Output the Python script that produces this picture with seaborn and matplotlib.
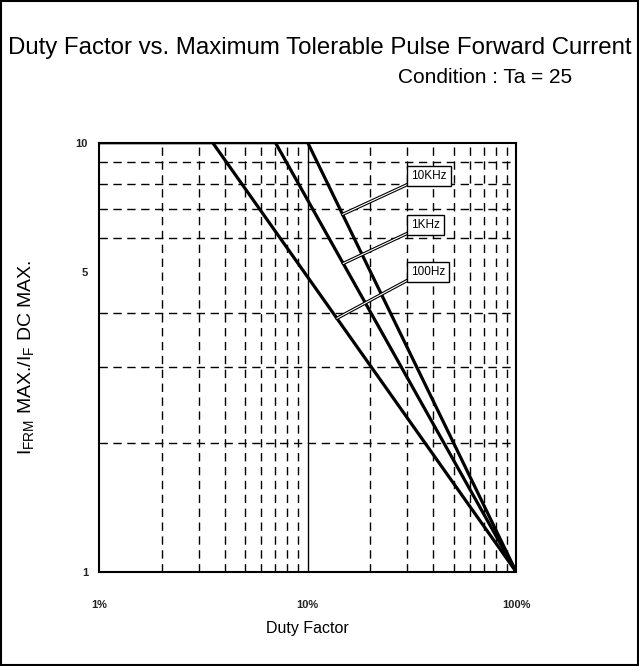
import numpy as np
import pandas as pd
import seaborn as sns
import matplotlib
matplotlib.use("Agg")
import matplotlib.pyplot as plt
from matplotlib.patches import Rectangle
from matplotlib.ticker import FixedLocator, NullFormatter

# data (duty factor in %)
freq_labels = ["100Hz", "1KHz", "10KHz"]
break_duty = [3.5, 7.0, 10.0]      # duty where the curve leaves the 10x ceiling
start_duty = 1.0
end_duty = 100.0
ceiling = 10.0
floor_ratio = 1.0
label_duty = [13.8, 14.8, 14.7]    # where the leader lines touch each curve

x_ticks = [1, 10, 100]
x_ticklabels = ["1%", "10%", "100%"]
y_ticks = [1, 5, 10]
y_ticklabels = ["1", "5", "10"]

rows = []
for f, b in zip(freq_labels, break_duty):
    for d, r in zip([start_duty, b, end_duty], [ceiling, ceiling, floor_ratio]):
        rows.append({"freq": f, "duty": d, "ratio": r})
df = pd.DataFrame(rows)

sns.set_style("white")
plt.rcParams["font.family"] = ["Liberation Sans", "DejaVu Sans"]
plt.rcParams["mathtext.default"] = "regular"
plt.rcParams["text.color"] = "black"
plt.rcParams["axes.labelcolor"] = "black"

fig = plt.figure(figsize=(6.39, 6.66), dpi=100)
ax = fig.add_axes([0.155, 0.141, 0.653, 0.645])

sns.lineplot(data=df, x="duty", y="ratio", units="freq", estimator=None,
             sort=False, color="black", linewidth=2.3, ax=ax)

ax.set_xscale("log")
ax.set_yscale("log")
ax.set_xlim(1, 100)
ax.set_ylim(1, 10)

# dashed minor grid, solid line at 10%
minor_x = [m * 10 ** e for e in (0, 1) for m in range(2, 10)]
minor_y = list(range(2, 10))
ax.xaxis.set_minor_locator(FixedLocator(minor_x))
ax.yaxis.set_minor_locator(FixedLocator(minor_y))
ax.xaxis.set_minor_formatter(NullFormatter())
ax.yaxis.set_minor_formatter(NullFormatter())
ax.grid(which="minor", color="black", linestyle=(0, (6, 4)), linewidth=1.0)
ax.axvline(10, color="black", linewidth=1.0, zorder=1)

ax.set_xticks(x_ticks)
ax.set_xticklabels(x_ticklabels)
ax.set_yticks(y_ticks)
ax.set_yticklabels(y_ticklabels)
ax.tick_params(which="both", length=0)
ax.tick_params(axis="x", pad=20, labelsize=8)
ax.tick_params(axis="y", pad=8, labelsize=8)
for t in ax.get_xticklabels() + ax.get_yticklabels():
    t.set_fontweight("bold")
    t.set_color("#222222")

for s in ax.spines.values():
    s.set_visible(True)
    s.set_color("black")
    s.set_linewidth(1.5)

ax.set_xlabel("Duty Factor", fontsize=11.5)
ax.set_ylabel(r"I$_{FRM}$ MAX./I$_{F}$ DC MAX.", fontsize=14)
ax.xaxis.set_label_coords(0.5, -0.115)
ax.yaxis.set_label_coords(-0.15, 0.5)

# frequency call-outs with double leader lines
box_y = [5.0, 6.43, 8.35]
for f, b, ld, by in zip(freq_labels, break_duty, label_duty, box_y):
    target = 10 ** ((2 - np.log10(ld)) / (2 - np.log10(b)))
    for lw, c in ((2.4, "black"), (0.8, "white")):
        ax.annotate("", xy=(ld, target), xytext=(30.6, by * 0.96),
                    arrowprops=dict(arrowstyle="-", color=c, lw=lw,
                                    shrinkA=0, shrinkB=0))
    ax.text(31.3, by, f, fontsize=8.5, ha="left", va="center",
            bbox=dict(boxstyle="square,pad=0.35", fc="white", ec="black", lw=1.0))

fig.text(0.012, 0.928, "Duty Factor vs. Maximum Tolerable Pulse Forward Current",
         fontsize=17.3, ha="left", va="center")
fig.text(0.623, 0.884, "Condition : Ta = 25", fontsize=15, ha="left", va="center")

fig.add_artist(Rectangle((0.002, 0.002), 0.996, 0.996, transform=fig.transFigure,
                         fill=False, edgecolor="black", linewidth=1.5))

fig.savefig("out.png", dpi=100)
